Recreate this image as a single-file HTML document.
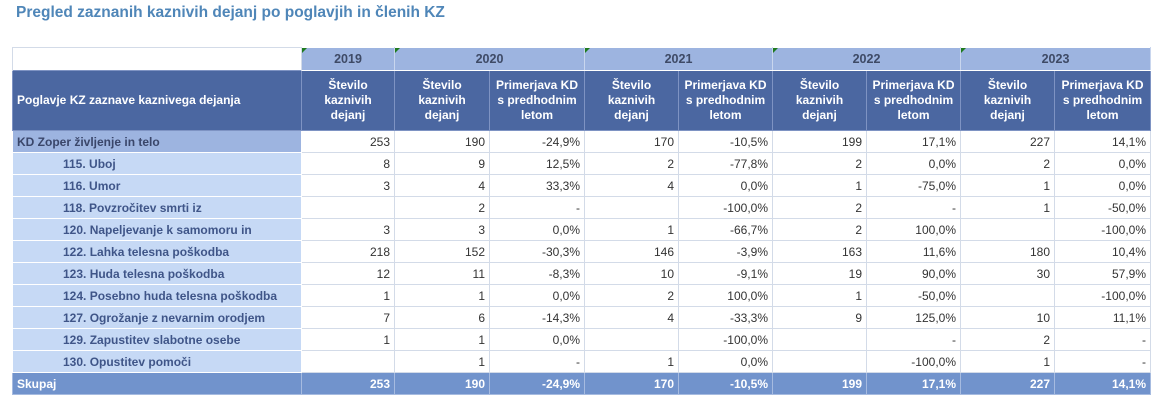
<!DOCTYPE html>
<html><head><meta charset="utf-8"><style>
body{margin:0;width:1153px;height:402px;background:#fff;font-family:"Liberation Sans",sans-serif;overflow:hidden;position:relative}
.t{position:absolute;left:16px;top:4px;font-size:15.5px;font-weight:bold;color:#4f86b8}
table{position:absolute;left:12px;top:47px;width:1138px;border-collapse:collapse;table-layout:fixed;font-size:12px}
td{padding:0 4px;border:1px solid #d3dbe8;height:22px;box-sizing:border-box;white-space:nowrap;overflow:hidden}
.y td{background:#9db4e0;color:#3e4a66;font-weight:bold;text-align:center;border-color:#fff #c9d6ee;position:relative;height:23px;font-size:12.5px}
.y td.e{background:#fff;border:1px solid #d3dbe8;border-bottom:none}
.y td.m:before{content:"";position:absolute;left:0;top:0;border-top:5px solid #1e7a1e;border-right:5px solid transparent}
.h td{background:#4b67a1;color:#fff;font-weight:bold;text-align:center;height:60px;line-height:15px;border-color:#7e93c3;padding:0 2px}
.h td.l{text-align:left;padding-left:4px}
.r td{text-align:right;color:#333}
.r td.l{text-align:left;background:#c6d9f5;color:#3f5588;font-weight:bold;padding-left:50px;border-color:#fff}
.r.top td.l{background:#9db4e0;padding-left:4px;color:#3a466a}
.s td{background:#7193cc;color:#fff;font-weight:bold;text-align:right;border-color:#a6bbe0}
.s td.l{text-align:left}
</style></head><body>
<div class="t">Pregled zaznanih kaznivih dejanj po poglavjih in členih KZ</div>
<table>
<colgroup><col style="width:289px"><col style="width:93px"><col style="width:95px"><col style="width:95px"><col style="width:94px"><col style="width:94px"><col style="width:94px"><col style="width:94px"><col style="width:94px"><col style="width:96px"></colgroup>
<tr class="y"><td class="e"></td><td class="m">2019</td><td class="m" colspan="2">2020</td><td class="m" colspan="2">2021</td><td class="m" colspan="2">2022</td><td class="m" colspan="2">2023</td></tr>
<tr class="h"><td class="l">Poglavje KZ zaznave kaznivega dejanja</td><td>Število<br>kaznivih<br>dejanj</td><td>Število<br>kaznivih<br>dejanj</td><td>Primerjava KD<br>s predhodnim<br>letom</td><td>Število<br>kaznivih<br>dejanj</td><td>Primerjava KD<br>s predhodnim<br>letom</td><td>Število<br>kaznivih<br>dejanj</td><td>Primerjava KD<br>s predhodnim<br>letom</td><td>Število<br>kaznivih<br>dejanj</td><td>Primerjava KD<br>s predhodnim<br>letom</td></tr>
<tr class="r top"><td class="l">KD Zoper življenje in telo</td><td>253</td><td>190</td><td>-24,9%</td><td>170</td><td>-10,5%</td><td>199</td><td>17,1%</td><td>227</td><td>14,1%</td></tr>
<tr class="r"><td class="l">115. Uboj</td><td>8</td><td>9</td><td>12,5%</td><td>2</td><td>-77,8%</td><td>2</td><td>0,0%</td><td>2</td><td>0,0%</td></tr>
<tr class="r"><td class="l">116. Umor</td><td>3</td><td>4</td><td>33,3%</td><td>4</td><td>0,0%</td><td>1</td><td>-75,0%</td><td>1</td><td>0,0%</td></tr>
<tr class="r"><td class="l">118. Povzročitev smrti iz</td><td></td><td>2</td><td>-</td><td></td><td>-100,0%</td><td>2</td><td>-</td><td>1</td><td>-50,0%</td></tr>
<tr class="r"><td class="l">120. Napeljevanje k samomoru in</td><td>3</td><td>3</td><td>0,0%</td><td>1</td><td>-66,7%</td><td>2</td><td>100,0%</td><td></td><td>-100,0%</td></tr>
<tr class="r"><td class="l">122. Lahka telesna poškodba</td><td>218</td><td>152</td><td>-30,3%</td><td>146</td><td>-3,9%</td><td>163</td><td>11,6%</td><td>180</td><td>10,4%</td></tr>
<tr class="r"><td class="l">123. Huda telesna poškodba</td><td>12</td><td>11</td><td>-8,3%</td><td>10</td><td>-9,1%</td><td>19</td><td>90,0%</td><td>30</td><td>57,9%</td></tr>
<tr class="r"><td class="l">124. Posebno huda telesna poškodba</td><td>1</td><td>1</td><td>0,0%</td><td>2</td><td>100,0%</td><td>1</td><td>-50,0%</td><td></td><td>-100,0%</td></tr>
<tr class="r"><td class="l">127. Ogrožanje z nevarnim orodjem</td><td>7</td><td>6</td><td>-14,3%</td><td>4</td><td>-33,3%</td><td>9</td><td>125,0%</td><td>10</td><td>11,1%</td></tr>
<tr class="r"><td class="l">129. Zapustitev slabotne osebe</td><td>1</td><td>1</td><td>0,0%</td><td></td><td>-100,0%</td><td></td><td>-</td><td>2</td><td>-</td></tr>
<tr class="r"><td class="l">130. Opustitev pomoči</td><td></td><td>1</td><td>-</td><td>1</td><td>0,0%</td><td></td><td>-100,0%</td><td>1</td><td>-</td></tr>
<tr class="s"><td class="l">Skupaj</td><td>253</td><td>190</td><td>-24,9%</td><td>170</td><td>-10,5%</td><td>199</td><td>17,1%</td><td>227</td><td>14,1%</td></tr>
</table>
</body></html>
